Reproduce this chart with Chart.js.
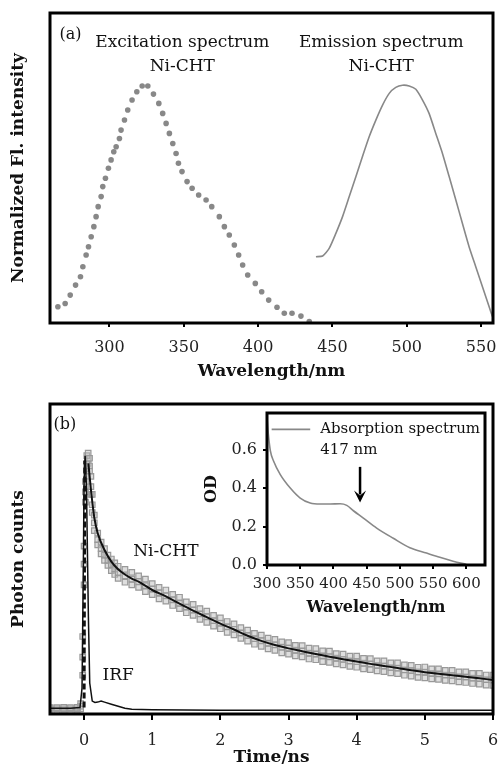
<!DOCTYPE html>
<html>
<head>
<meta charset="utf-8">
<script src="https://cdn.jsdelivr.net/npm/chart.js@4.4.1/dist/chart.umd.min.js"></script>
<style>
  html, body { margin: 0; padding: 0; background: #fff; }
  body { width: 499px; height: 768px; position: relative; overflow: hidden; }
  canvas { position: absolute; }
  #chartA { left: 0; top: 0; }
  #chartB { left: 0; top: 385px; }
  #chartInset { left: 200px; top: 405px; }
</style>
</head>
<body>
<canvas id="chartA" width="499" height="385"></canvas>
<canvas id="chartB" width="499" height="383"></canvas>
<canvas id="chartInset" width="295" height="215"></canvas>
<script>
// Panel (a): excitation spectrum (dots) and emission spectrum (line)
const excWavelength = [265.3, 270.2, 273.6, 277.2, 280.5, 282.1, 284.3, 285.9, 287.7, 289.5, 291.0, 292.4, 294.4, 295.5, 297.3, 299.3, 301.1, 302.9, 304.5, 306.7, 307.8, 310.1, 312.3, 315.2, 318.4, 322.0, 325.8, 329.6, 333.2, 335.8, 338.1, 340.3, 342.6, 344.8, 346.4, 348.8, 352.2, 355.6, 360.0, 365.0, 368.8, 373.9, 377.3, 380.6, 384.0, 386.9, 389.6, 393.0, 398.1, 402.4, 407.1, 412.7, 417.6, 422.8, 428.8, 434.4];
const excIntensity = [0.068, 0.082, 0.117, 0.159, 0.194, 0.236, 0.285, 0.320, 0.362, 0.404, 0.446, 0.488, 0.530, 0.572, 0.607, 0.649, 0.684, 0.718, 0.739, 0.774, 0.809, 0.851, 0.893, 0.935, 0.970, 0.994, 0.994, 0.960, 0.921, 0.879, 0.837, 0.795, 0.753, 0.711, 0.670, 0.635, 0.593, 0.565, 0.537, 0.516, 0.488, 0.446, 0.404, 0.369, 0.327, 0.285, 0.243, 0.201, 0.166, 0.131, 0.096, 0.066, 0.041, 0.041, 0.029, 0.006];
const emWavelength = [438.9, 443.4, 447.8, 452.3, 456.8, 461.3, 465.8, 470.2, 474.7, 479.2, 483.7, 488.2, 492.6, 497.1, 501.6, 506.1, 510.6, 515.0, 519.5, 524.0, 528.5, 533.0, 537.4, 541.9, 546.4, 550.9, 555.4, 557.6];
const emIntensity = [0.278, 0.281, 0.313, 0.376, 0.446, 0.530, 0.614, 0.698, 0.781, 0.851, 0.914, 0.963, 0.988, 0.997, 0.994, 0.980, 0.935, 0.879, 0.795, 0.711, 0.614, 0.516, 0.418, 0.320, 0.236, 0.152, 0.068, 0.027];
const wavelengthTicksA = [300, 350, 400, 450, 500, 550];

// Panel (b): Ni-CHT decay (open squares: upper edge, middle and lower edge of the band), fit and IRF
const decayTime = [-0.5, -0.4, -0.3, -0.2, -0.1, -0.05, -0.02, 0, 0.02, 0.04, 0.06, 0.08, 0.1, 0.12, 0.15, 0.2, 0.25, 0.3, 0.35, 0.4, 0.45, 0.5,
  0.6, 0.7, 0.8, 0.9, 1.0, 1.1, 1.2, 1.3, 1.4, 1.5, 1.6, 1.7, 1.8, 1.9, 2.0, 2.1, 2.2, 2.3, 2.4, 2.5, 2.6, 2.7, 2.8, 2.9, 3.0,
  3.1, 3.2, 3.3, 3.4, 3.5, 3.6, 3.7, 3.8, 3.9, 4.0, 4.1, 4.2, 4.3, 4.4, 4.5, 4.6, 4.7, 4.8, 4.9, 5.0, 5.1, 5.2, 5.3, 5.4, 5.5,
  5.6, 5.7, 5.8, 5.9, 6.0];
const decayUpper = [0.025, 0.025, 0.026, 0.025, 0.026, 0.04, 0.3, 0.65, 0.9, 1.0, 1.01, 0.99, 0.92, 0.85, 0.77, 0.70, 0.665, 0.64, 0.615, 0.60, 0.585, 0.572,
  0.56, 0.548, 0.535, 0.522, 0.505, 0.49, 0.48, 0.463, 0.452, 0.434, 0.424, 0.408, 0.398, 0.382, 0.372, 0.358, 0.349, 0.334, 0.325, 0.312, 0.305, 0.294, 0.289, 0.279, 0.276,
  0.266, 0.265, 0.255, 0.253, 0.244, 0.243, 0.234, 0.232, 0.224, 0.224, 0.215, 0.214, 0.206, 0.206, 0.198, 0.198, 0.19, 0.188, 0.181, 0.182, 0.175, 0.175, 0.169, 0.169, 0.163,
  0.163, 0.157, 0.157, 0.151, 0.151];
const decayMiddle = [0.02, 0.02, 0.02, 0.02, 0.02, 0.03, 0.22, 0.58, 0.86, 0.97, 0.99, 0.96, 0.88, 0.81, 0.74, 0.675, 0.64, 0.615, 0.595, 0.578, 0.562, 0.548,
  0.535, 0.522, 0.513, 0.497, 0.484, 0.47, 0.457, 0.443, 0.428, 0.415, 0.402, 0.388, 0.377, 0.362, 0.352, 0.338, 0.328, 0.314, 0.304, 0.292, 0.284, 0.274, 0.268, 0.259, 0.255,
  0.247, 0.244, 0.236, 0.233, 0.226, 0.222, 0.216, 0.212, 0.206, 0.203, 0.197, 0.194, 0.188, 0.186, 0.18, 0.178, 0.171, 0.169, 0.163, 0.162, 0.157, 0.156, 0.151, 0.15, 0.145,
  0.144, 0.139, 0.138, 0.133, 0.132];
const decayLower = [0.015, 0.014, 0.015, 0.014, 0.015, 0.02, 0.15, 0.5, 0.82, 0.95, 0.97, 0.94, 0.85, 0.78, 0.71, 0.655, 0.62, 0.595, 0.575, 0.555, 0.54, 0.525,
  0.51, 0.5, 0.49, 0.474, 0.462, 0.446, 0.437, 0.42, 0.408, 0.392, 0.382, 0.366, 0.355, 0.34, 0.33, 0.316, 0.306, 0.293, 0.282, 0.27, 0.262, 0.252, 0.246, 0.237, 0.232,
  0.225, 0.221, 0.213, 0.21, 0.203, 0.2, 0.194, 0.19, 0.184, 0.181, 0.175, 0.172, 0.167, 0.164, 0.159, 0.156, 0.15, 0.147, 0.142, 0.14, 0.136, 0.134, 0.13, 0.128, 0.124,
  0.122, 0.118, 0.116, 0.112, 0.111];
const fitTime = [0.063, 0.1, 0.15, 0.2, 0.3, 0.4, 0.5, 0.6, 0.7, 0.8, 1.0, 1.2, 1.4, 1.6, 1.8, 2.0, 2.2, 2.4, 2.6, 2.8, 3.0, 3.2, 3.4, 3.6, 3.8, 4.0, 4.2, 4.4, 4.6, 4.8, 5.0, 5.2, 5.4, 5.6, 5.8, 6.0];
const fitCounts = [0.97, 0.87, 0.76, 0.70, 0.635, 0.59, 0.56, 0.54, 0.524, 0.512, 0.48, 0.455, 0.427, 0.40, 0.375, 0.35, 0.327, 0.303, 0.283, 0.267, 0.254, 0.243, 0.232, 0.222, 0.212, 0.203, 0.194, 0.186, 0.178, 0.169, 0.162, 0.156, 0.150, 0.144, 0.138, 0.132];
const irfTime = [-0.5, -0.2, -0.06, -0.03, -0.01, 0.0, 0.015, 0.035, 0.063, 0.083, 0.12, 0.16, 0.2, 0.25, 0.3, 0.4, 0.5, 0.6, 0.7, 1.0, 2.0, 3.0, 4.0, 5.0, 6.0];
const irfCounts = [0.022, 0.022, 0.025, 0.1, 0.6, 0.9, 1.0, 0.88, 0.38, 0.12, 0.05, 0.045, 0.046, 0.05, 0.046, 0.038, 0.03, 0.022, 0.018, 0.016, 0.015, 0.015, 0.015, 0.015, 0.015];
const irfRiseTime = [0.0, 0.01];
const irfRiseCounts = [0.025, 0.98];
const timeTicks = [0, 1, 2, 3, 4, 5, 6];

// Inset: absorption spectrum
const absWavelength = [300, 302, 305, 310, 320, 335, 350, 365, 380, 395, 410, 420, 430, 445, 465, 490, 515, 540, 560, 580, 600];
const absOD = [0.766, 0.68, 0.595, 0.539, 0.47, 0.40, 0.348, 0.322, 0.317, 0.317, 0.318, 0.31, 0.282, 0.244, 0.192, 0.139, 0.09, 0.062, 0.04, 0.02, 0.003];
const wavelengthTicksInset = [300, 350, 400, 450, 500, 550, 600];
const odTicks = [0.0, 0.2, 0.4, 0.6];

const serif = "'DejaVu Serif', 'Liberation Serif', serif";

function pts(xs, ys) {
  return xs.map((x, i) => ({ x: x, y: ys[i] }));
}

// black box around the plot area
const framePlugin = {
  id: 'frame',
  afterDraw(chart) {
    const a = chart.chartArea;
    const ctx = chart.ctx;
    ctx.save();
    ctx.strokeStyle = '#000';
    ctx.lineWidth = 3;
    ctx.strokeRect(a.left, a.top, a.right - a.left, a.bottom - a.top);
    ctx.restore();
  }
};

// text labels placed in data coordinates
function notes(list) {
  return {
    id: 'notes',
    afterDraw(chart) {
      const ctx = chart.ctx;
      const xs = chart.scales.x, ys = chart.scales.y;
      ctx.save();
      ctx.fillStyle = '#111';
      ctx.textBaseline = 'middle';
      list.forEach(n => {
        ctx.font = n.font || ('17px ' + serif);
        ctx.textAlign = n.align || 'center';
        ctx.fillText(n.text, xs.getPixelForValue(n.x), ys.getPixelForValue(n.y));
      });
      ctx.restore();
    }
  };
}

function tickSetter(values) {
  return scale => { scale.ticks = values.map(v => ({ value: v })); };
}

// keep the plot box where the figure has it, labels may overhang
function fixHeight(h) {
  return s => { s.height = h; s.paddingLeft = 0; s.paddingRight = 0; };
}
function fixWidth(w) {
  return s => { s.width = w; s.paddingTop = 0; s.paddingBottom = 0; };
}

const squareStyle = {
  order: 5,
  pointStyle: 'rect',
  pointRadius: 3.9,
  pointBorderColor: '#999',
  pointBackgroundColor: 'rgba(190,190,190,0.5)',
  pointBorderWidth: 1.2,
  showLine: false
};

const titleFont = { family: serif, size: 17, weight: 'bold' };

// Panel (a)
new Chart(document.getElementById('chartA'), {
  type: 'scatter',
  data: {
    datasets: [
      {
        label: 'Excitation',
        data: pts(excWavelength, excIntensity),
        pointRadius: 2.8,
        pointBackgroundColor: '#888',
        pointBorderWidth: 0,
        showLine: false
      },
      {
        label: 'Emission',
        data: pts(emWavelength, emIntensity),
        showLine: true,
        borderColor: '#888',
        borderWidth: 1.6,
        pointRadius: 0,
        tension: 0.2
      }
    ]
  },
  options: {
    responsive: false,
    animation: false,
    layout: { padding: { top: 13, right: 6, left: 0, bottom: 0 } },
    plugins: { legend: { display: false }, tooltip: { enabled: false } },
    scales: {
      x: {
        type: 'linear', min: 260, max: 558,
        afterBuildTicks: tickSetter(wavelengthTicksA),
        afterFit: fixHeight(62),
        border: { display: false },
        grid: { drawOnChartArea: false, tickLength: 4, color: '#000', lineWidth: 2 },
        ticks: { color: '#222', font: { family: serif, size: 16 }, padding: 11, maxRotation: 0 },
        title: { display: true, text: 'Wavelength/nm', color: '#111', font: titleFont, padding: { top: 0, bottom: 3 } }
      },
      y: {
        min: 0, max: 1.3,
        afterFit: fixWidth(50),
        border: { display: false },
        grid: { display: false },
        ticks: { display: false },
        title: { display: true, text: 'Normalized Fl. intensity', color: '#111', font: titleFont, padding: { top: 8, bottom: 0 } }
      }
    }
  },
  plugins: [framePlugin, notes([
    { text: '(a)', x: 266.4, y: 1.208, align: 'left', font: '16px ' + serif },
    { text: 'Excitation spectrum', x: 349, y: 1.174 },
    { text: 'Ni-CHT', x: 349, y: 1.074 },
    { text: 'Emission spectrum', x: 482.8, y: 1.174 },
    { text: 'Ni-CHT', x: 482.8, y: 1.074 }
  ])]
});

// Panel (b)
new Chart(document.getElementById('chartB'), {
  type: 'scatter',
  data: {
    datasets: [
      Object.assign({ label: 'Ni-CHT upper', data: pts(decayTime, decayUpper) }, squareStyle),
      Object.assign({ label: 'Ni-CHT middle', data: pts(decayTime, decayMiddle) }, squareStyle),
      Object.assign({ label: 'Ni-CHT lower', data: pts(decayTime, decayLower) }, squareStyle),
      {
        label: 'IRF',
        order: 2,
        data: pts(irfTime, irfCounts),
        showLine: true,
        borderColor: '#111',
        borderWidth: 1.5,
        pointRadius: 0,
        tension: 0
      },
      {
        label: 'IRF rise',
        order: 1,
        data: pts(irfRiseTime, irfRiseCounts),
        showLine: true,
        borderColor: '#111',
        borderWidth: 3,
        borderDash: [6, 3],
        pointRadius: 0
      },
      {
        label: 'Fit',
        order: 0,
        data: pts(fitTime, fitCounts),
        showLine: true,
        borderColor: '#111',
        borderWidth: 2,
        pointRadius: 0,
        cubicInterpolationMode: 'monotone'
      }
    ]
  },
  options: {
    responsive: false,
    animation: false,
    layout: { padding: { top: 19, right: 6, left: 0, bottom: 0 } },
    plugins: { legend: { display: false }, tooltip: { enabled: false } },
    scales: {
      x: {
        type: 'linear', min: -0.5, max: 6,
        afterBuildTicks: tickSetter(timeTicks),
        afterFit: fixHeight(54),
        border: { display: false },
        grid: { drawOnChartArea: false, tickLength: 6, color: '#000', lineWidth: 2 },
        ticks: { color: '#222', font: { family: serif, size: 16 }, padding: 11, maxRotation: 0 },
        title: { display: true, text: 'Time/ns', color: '#111', font: titleFont, padding: { top: 0, bottom: 0 } }
      },
      y: {
        min: 0, max: 1.2,
        afterFit: fixWidth(50),
        border: { display: false },
        grid: { display: false },
        ticks: { display: false },
        title: { display: true, text: 'Photon counts', color: '#111', font: titleFont, padding: { top: 8, bottom: 0 } }
      }
    }
  },
  plugins: [framePlugin, notes([
    { text: '(b)', x: -0.45, y: 1.12, align: 'left', font: '16px ' + serif },
    { text: 'Ni-CHT', x: 1.2, y: 0.63 },
    { text: 'IRF', x: 0.5, y: 0.15 }
  ])]
});

// Inset: absorption spectrum with legend line and arrow at 417 nm
const insetExtras = {
  id: 'insetExtras',
  afterDraw(chart) {
    const ctx = chart.ctx;
    const xs = chart.scales.x, ys = chart.scales.y;
    ctx.save();
    // legend sample line
    ctx.strokeStyle = '#888';
    ctx.lineWidth = 1.6;
    ctx.beginPath();
    ctx.moveTo(xs.getPixelForValue(307), ys.getPixelForValue(0.705));
    ctx.lineTo(xs.getPixelForValue(365), ys.getPixelForValue(0.705));
    ctx.stroke();
    // arrow
    const ax = xs.getPixelForValue(440);
    const y0 = ys.getPixelForValue(0.51), y1 = ys.getPixelForValue(0.325);
    ctx.strokeStyle = '#000';
    ctx.fillStyle = '#000';
    ctx.lineWidth = 2.5;
    ctx.beginPath();
    ctx.moveTo(ax, y0);
    ctx.lineTo(ax, y1 - 8);
    ctx.stroke();
    ctx.beginPath();
    ctx.moveTo(ax - 6, y1 - 12);
    ctx.lineTo(ax, y1);
    ctx.lineTo(ax + 6, y1 - 12);
    ctx.lineTo(ax, y1 - 7);
    ctx.closePath();
    ctx.fill();
    ctx.restore();
  }
};

new Chart(document.getElementById('chartInset'), {
  type: 'scatter',
  data: {
    datasets: [{
      label: 'Absorption spectrum',
      data: pts(absWavelength, absOD),
      showLine: true,
      borderColor: '#888',
      borderWidth: 1.6,
      pointRadius: 0,
      cubicInterpolationMode: 'monotone'
    }]
  },
  options: {
    responsive: false,
    animation: false,
    layout: { padding: { top: 8, right: 10, left: 0, bottom: 0 } },
    plugins: { legend: { display: false }, tooltip: { enabled: false } },
    scales: {
      x: {
        type: 'linear', min: 300, max: 628,
        afterBuildTicks: tickSetter(wavelengthTicksInset),
        afterFit: fixHeight(55),
        border: { display: false },
        grid: { drawOnChartArea: false, tickLength: 4, color: '#000', lineWidth: 2 },
        ticks: { color: '#222', font: { family: serif, size: 15 }, padding: 6, maxRotation: 0 },
        title: { display: true, text: 'Wavelength/nm', color: '#111', font: { family: serif, size: 16, weight: 'bold' }, padding: { top: 0, bottom: 3 } }
      },
      y: {
        min: 0, max: 0.79,
        afterBuildTicks: tickSetter(odTicks),
        afterFit: fixWidth(67),
        border: { display: false },
        grid: { drawOnChartArea: false, tickLength: 4, color: '#000', lineWidth: 2 },
        ticks: { color: '#222', font: { family: serif, size: 16 }, padding: 6, callback: v => v.toFixed(1) },
        title: { display: true, text: 'OD', color: '#111', font: { family: serif, size: 16, weight: 'bold' }, padding: { top: 2, bottom: 0 } }
      }
    }
  },
  plugins: [framePlugin, insetExtras, notes([
    { text: 'Absorption spectrum', x: 380, y: 0.705, align: 'left', font: '15px ' + serif },
    { text: '417 nm', x: 380, y: 0.595, align: 'left', font: '15px ' + serif }
  ])]
});
</script>
</body>
</html>
